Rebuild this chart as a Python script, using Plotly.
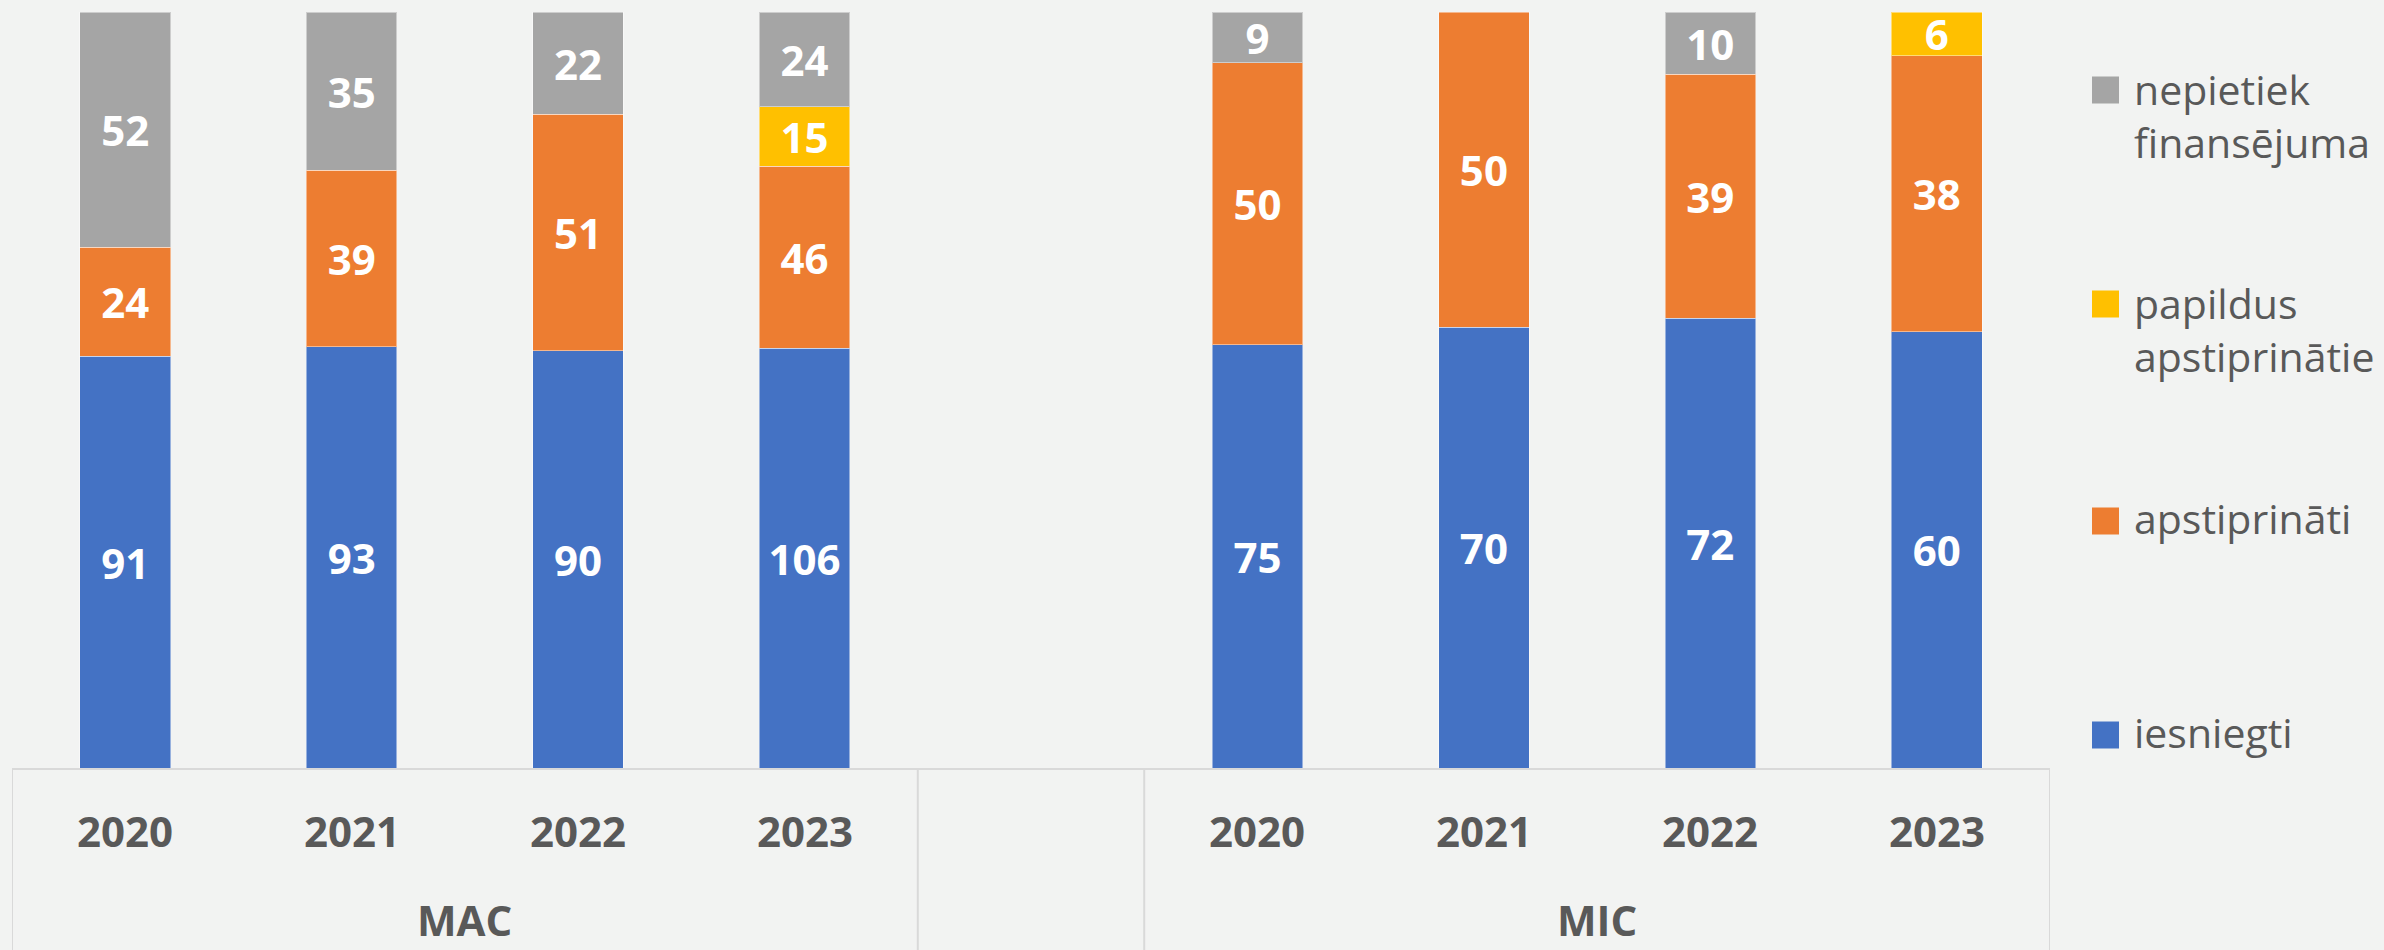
import plotly.graph_objects as go

# ---- data ----
groups = ["MAC", "MIC"]
years = ["2020", "2021", "2022", "2023"]
gap_label = " "

iesniegti_mac = [91, 93, 90, 106]
iesniegti_mic = [75, 70, 72, 60]
apstiprinati_mac = [24, 39, 51, 46]
apstiprinati_mic = [50, 50, 39, 38]
papildus_mac = [None, None, None, 15]
papildus_mic = [None, None, None, 6]
nepietiek_mac = [52, 35, 22, 24]
nepietiek_mic = [9, None, 10, None]

series_names = ["iesniegti", "apstiprināti", "papildus<br>apstiprinātie", "nepietiek<br>finansējuma"]
series_colors = ["#4472C4", "#ED7D31", "#FFC000", "#A5A5A5"]

# category keys: 4 MAC years, a gap slot, 4 MIC years
x_keys = [f"{groups[0]} {y}" for y in years] + [gap_label] + [f"{groups[1]} {y}" for y in years]


def full(mac, mic):
    return list(mac) + [None] + list(mic)


series_values = [
    full(iesniegti_mac, iesniegti_mic),
    full(apstiprinati_mac, apstiprinati_mic),
    full(papildus_mac, papildus_mic),
    full(nepietiek_mac, nepietiek_mic),
]

# ---- layout geometry (pixels) ----
W, H = 2384, 950
PL, PR, PT, PB = 12, 2050, 12, 768  # plot area edges


def px_x(px):
    return (px - PL) / (PR - PL)


def px_y(py):
    return (PB - py) / (PB - PT)


BG = "#F2F3F2"
TXT = "#595959"
LINE = "#D9D9D9"

fig = go.Figure()
for name, color, vals in zip(series_names, series_colors, series_values):
    fig.add_trace(go.Bar(
        x=x_keys,
        y=vals,
        name=name.replace("<br>", " "),
        marker=dict(color=color, line=dict(color="rgba(255,255,255,0.45)", width=1)),
        text=[str(v) if v else "" for v in vals],
        texttemplate="%{text}",
        textposition="inside",
        insidetextanchor="middle",
        textangle=0,
        constraintext="none",
        textfont=dict(family="Open Sans", size=42, color="white", weight="bold"),
        hoverinfo="skip",
        showlegend=False,
    ))

annotations = []
# category labels (years and groups) below the axis
for key in x_keys:
    if key == gap_label:
        continue
    annotations.append(dict(
        x=key, xref="x", y=px_y(830), yref="paper", text=key.split(" ")[1],
        showarrow=False, xanchor="center", yanchor="middle", borderpad=0,
        font=dict(family="Open Sans", size=42, color=TXT, weight="bold"),
    ))
for gi, g in enumerate(groups):
    center = 1.5 if gi == 0 else 6.5
    annotations.append(dict(
        x=center, xref="x", y=px_y(920), yref="paper", text=g,
        showarrow=False, xanchor="center", yanchor="middle", borderpad=0,
        font=dict(family="Open Sans", size=42, color=TXT, weight="bold"),
    ))

shapes = []
# category table lines
for xb in [-0.5, 3.5, 4.5, 8.5]:
    shapes.append(dict(type="line", xref="x", yref="paper", x0=xb, x1=xb, y0=0, y1=-0.4,
                       line=dict(color=LINE, width=2)))

# legend (top to bottom: last series first)
legend_icon_centers = [90, 304, 521, 735]
for i, (name, color) in enumerate(zip(series_names[::-1], series_colors[::-1])):
    cy = legend_icon_centers[i]
    shapes.append(dict(type="rect", xref="paper", yref="paper",
                       x0=px_x(2092), x1=px_x(2119), y0=px_y(cy + 13.5), y1=px_y(cy - 13.5),
                       fillcolor=color, line=dict(width=0)))
    two_lines = "<br>" in name
    ty = cy + 25 if two_lines else cy - 3
    annotations.append(dict(
        x=px_x(2133), xref="paper", y=px_y(ty), yref="paper", text=name,
        showarrow=False, xanchor="left", yanchor="middle", align="left", borderpad=0,
        font=dict(family="Open Sans", size=41, color=TXT),
    ))

fig.update_layout(
    width=W, height=H,
    margin=dict(l=PL, r=W - PR, t=PT, b=H - PB, autoexpand=False),
    paper_bgcolor=BG, plot_bgcolor=BG,
    barmode="stack", barnorm="percent", bargap=0.6,
    xaxis=dict(type="category", categoryorder="array", categoryarray=x_keys,
               range=[-0.5, 8.5], showticklabels=False, ticks="", showgrid=False,
               showline=True, linecolor=LINE, linewidth=2, zeroline=False),
    yaxis=dict(visible=False, range=[0, 100], showgrid=False, zeroline=False),
    annotations=annotations,
    shapes=shapes,
    showlegend=False,
)

fig.write_html(
    "out.html",
    config={"displayModeBar": False},
    post_script="document.body.style.margin='0';document.body.style.background='%s';" % BG,
)
